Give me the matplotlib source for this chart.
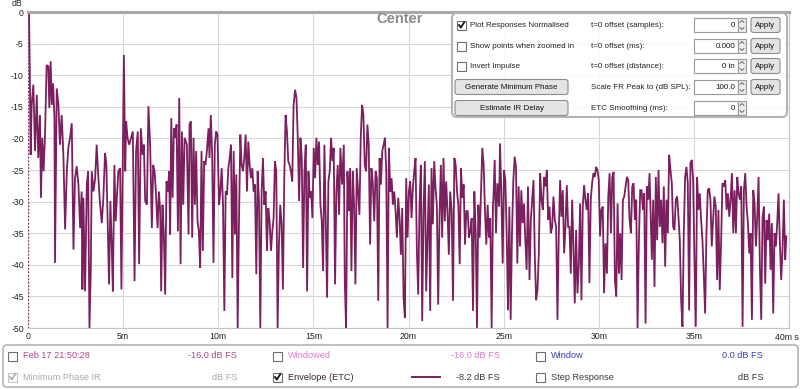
import matplotlib
matplotlib.use("Agg")
import matplotlib.pyplot as plt
from matplotlib.patches import Rectangle, FancyBboxPatch

plt.rcParams["font.family"] = ["Liberation Sans", "DejaVu Sans"]

# ETC trace: time in ms, level in dB FS
etc_time_ms = [
    0.05, 0.09, 0.14, 0.19, 0.28, 0.37, 0.46, 0.54, 0.63, 0.68,
    0.75, 0.82, 0.89, 0.98, 1.07, 1.12, 1.19, 1.25, 1.32, 1.39,
    1.42, 1.51, 1.60, 1.68, 1.77, 1.86, 1.95, 2.04, 2.12, 2.21,
    2.30, 2.39, 2.47, 2.56, 2.65, 2.74, 2.82, 2.86, 2.91, 3.00,
    3.09, 3.16, 3.23, 3.30, 3.35, 3.44, 3.53, 3.61, 3.70, 3.79,
    3.88, 3.96, 4.05, 4.12, 4.19, 4.26, 4.33, 4.40, 4.46, 4.54,
    4.61, 4.68, 4.75, 4.84, 4.91, 4.98, 5.04, 5.11, 5.16, 5.23,
    5.32, 5.42, 5.51, 5.60, 5.68, 5.77, 5.84, 5.93, 6.02, 6.09,
    6.16, 6.25, 6.33, 6.42, 6.51, 6.58, 6.65, 6.72, 6.81, 6.88,
    6.95, 7.00, 7.07, 7.14, 7.21, 7.28, 7.35, 7.42, 7.47, 7.53,
    7.60, 7.67, 7.74, 7.81, 7.88, 7.95, 8.02, 8.09, 8.16, 8.23,
    8.35, 8.44, 8.49, 8.56, 8.63, 8.70, 8.77, 8.84, 8.91, 8.98,
    9.05, 9.12, 9.19, 9.26, 9.33, 9.40, 9.49, 9.54, 9.61, 9.68,
    9.75, 9.82, 9.89, 9.96, 10.04, 10.11, 10.18, 10.25, 10.32, 10.39,
    10.46, 10.53, 10.60, 10.67, 10.74, 10.81, 10.88, 10.95, 11.02, 11.09,
    11.16, 11.23, 11.30, 11.37, 11.44, 11.51, 11.58, 11.65, 11.72, 11.79,
    11.86, 11.93, 12.00, 12.07, 12.14, 12.21, 12.28, 12.35, 12.42, 12.49,
    12.56, 12.63, 12.70, 12.77, 12.84, 12.91, 12.98, 13.05, 13.12, 13.19,
    13.26, 13.33, 13.40, 13.47, 13.54, 13.61, 13.68, 13.75, 13.82, 13.89,
    13.96, 14.04, 14.11, 14.18, 14.25, 14.32, 14.39, 14.46, 14.53, 14.60,
    14.67, 14.74, 14.81, 14.88, 14.95, 15.02, 15.09, 15.16, 15.23, 15.30,
    15.37, 15.44, 15.51, 15.58, 15.65, 15.72, 15.79, 15.86, 15.93, 16.00,
    16.07, 16.14, 16.21, 16.28, 16.35, 16.42, 16.51, 16.60, 16.65, 16.72,
    16.79, 16.86, 16.93, 17.00, 17.07, 17.14, 17.21, 17.28, 17.35, 17.42,
    17.49, 17.56, 17.63, 17.70, 17.77, 17.84, 17.91, 17.98, 18.05, 18.12,
    18.20, 18.27, 18.34, 18.41, 18.48, 18.55, 18.62, 18.69, 18.76, 18.83,
    18.90, 18.97, 19.04, 19.11, 19.18, 19.25, 19.32, 19.39, 19.46, 19.53,
    19.60, 19.67, 19.74, 19.81, 19.88, 19.95, 20.02, 20.09, 20.16, 20.23,
    20.30, 20.37, 20.44, 20.51, 20.58, 20.65, 20.72, 20.79, 20.86, 20.93,
    21.00, 21.07, 21.14, 21.21, 21.28, 21.35, 21.42, 21.49, 21.56, 21.63,
    21.70, 21.77, 21.84, 21.91, 21.98, 22.05, 22.12, 22.19, 22.27, 22.34,
    22.41, 22.48, 22.55, 22.62, 22.69, 22.76, 22.83, 22.90, 22.97, 23.04,
    23.11, 23.18, 23.25, 23.32, 23.39, 23.46, 23.53, 23.60, 23.67, 23.74,
    23.81, 23.88, 23.95, 24.02, 24.09, 24.16, 24.23, 24.30, 24.37, 24.44,
    24.46, 24.53, 24.60, 24.67, 24.76, 24.81, 24.88, 24.95, 25.02, 25.09,
    25.16, 25.23, 25.30, 25.37, 25.44, 25.51, 25.58, 25.65, 25.72, 25.79,
    25.86, 25.93, 26.00, 26.07, 26.14, 26.21, 26.28, 26.36, 26.43, 26.50,
    26.57, 26.64, 26.71, 26.78, 26.85, 26.92, 26.99, 27.06, 27.13, 27.20,
    27.27, 27.34, 27.41, 27.48, 27.55, 27.62, 27.69, 27.76, 27.83, 27.90,
    27.97, 28.04, 28.11, 28.18, 28.25, 28.32, 28.39, 28.46, 28.53, 28.60,
    28.67, 28.74, 28.81, 28.88, 28.95, 29.02, 29.09, 29.16, 29.23, 29.30,
    29.37, 29.44, 29.51, 29.58, 29.65, 29.72, 29.79, 29.86, 29.93, 30.00,
    30.07, 30.14, 30.21, 30.28, 30.35, 30.43, 30.50, 30.57, 30.64, 30.71,
    30.78, 30.85, 30.92, 30.99, 31.06, 31.13, 31.20, 31.27, 31.34, 31.41,
    31.48, 31.55, 31.62, 31.69, 31.76, 31.83, 31.90, 31.97, 32.04, 32.11,
    32.18, 32.25, 32.32, 32.39, 32.46, 32.53, 32.60, 32.67, 32.79, 32.86,
    32.93, 33.00, 33.07, 33.14, 33.21, 33.28, 33.35, 33.42, 33.49, 33.56,
    33.63, 33.70, 33.77, 33.84, 33.91, 33.98, 34.05, 34.12, 34.19, 34.26,
    34.33, 34.40, 34.47, 34.54, 34.61, 34.68, 34.75, 34.82, 34.89, 34.96,
    35.03, 35.10, 35.17, 35.24, 35.31, 35.38, 35.45, 35.52, 35.59, 35.66,
    35.73, 35.80, 35.87, 35.94, 36.01, 36.08, 36.15, 36.22, 36.29, 36.36,
    36.43, 36.50, 36.58, 36.65, 36.72, 36.79, 36.86, 36.93, 37.00, 37.07,
    37.14, 37.21, 37.28, 37.35, 37.42, 37.49, 37.56, 37.63, 37.70, 37.77,
    37.84, 37.91, 37.98, 38.05, 38.12, 38.19, 38.26, 38.33, 38.40, 38.47,
    38.54, 38.61, 38.68, 38.75, 38.82, 38.89, 38.96, 39.03, 39.10, 39.17,
    39.24, 39.31, 39.38, 39.45, 39.52, 39.59, 39.66, 39.73, 39.80, 39.86,
]

etc_level_db = [
    0.0, -8.4, -22.6, -14.7, -11.5, -22.0, -13.1, -23.1, -16.3, -29.4,
    -19.9, -25.2, -19.9, -8.4, -8.6, -15.2, -7.8, -14.7, -11.3, -16.8,
    -39.7, -12.1, -14.7, -21.0, -16.3, -22.6, -34.4, -25.2, -21.5, -19.9,
    -17.6, -37.6, -26.3, -24.4, -27.3, -34.2, -28.4, -43.9, -29.4, -44.2,
    -27.3, -25.2, -50.0, -41.0, -25.2, -28.4, -26.3, -21.0, -26.3, -30.5,
    -33.4, -29.4, -22.3, -24.2, -33.6, -43.1, -29.9, -36.8, -44.2, -24.2,
    -33.1, -28.9, -25.2, -24.7, -43.9, -24.7, -6.8, -25.2, -17.3, -19.9,
    -21.0, -19.9, -18.9, -42.6, -22.0, -18.9, -39.9, -18.4, -22.6, -21.0,
    -29.9, -30.5, -14.9, -21.0, -34.2, -24.2, -25.2, -28.4, -34.2, -28.4,
    -31.5, -44.2, -30.5, -35.2, -44.7, -26.8, -28.4, -25.2, -35.2, -16.8,
    -29.4, -18.4, -19.9, -17.8, -34.7, -13.6, -39.9, -18.9, -30.5, -19.9,
    -21.0, -35.2, -17.8, -17.3, -35.7, -19.9, -30.5, -22.0, -33.1, -34.7,
    -40.5, -22.0, -37.8, -23.6, -24.2, -22.0, -18.4, -23.1, -16.3, -22.6,
    -39.7, -21.0, -18.9, -19.4, -30.5, -28.4, -24.7, -30.5, -47.3, -28.4,
    -28.9, -24.7, -23.1, -21.0, -42.1, -22.0, -35.2, -25.7, -50.0, -33.1,
    -19.4, -24.2, -25.2, -23.1, -19.4, -28.4, -20.5, -24.2, -26.3, -24.7,
    -28.4, -27.3, -41.5, -25.2, -29.9, -50.0, -28.4, -23.1, -30.5, -28.4,
    -37.8, -31.0, -33.1, -37.8, -34.7, -32.6, -23.6, -25.2, -50.0, -36.8,
    -30.5, -33.6, -43.9, -26.3, -16.3, -18.9, -23.6, -24.2, -25.2, -26.8,
    -14.7, -12.3, -13.6, -19.9, -29.9, -19.9, -23.1, -40.5, -25.2, -21.0,
    -44.2, -25.2, -29.4, -28.4, -32.6, -21.5, -26.3, -19.9, -24.2, -20.5,
    -30.5, -33.1, -41.0, -21.0, -33.1, -45.2, -26.8, -25.2, -19.9, -23.6,
    -21.5, -43.1, -28.4, -24.2, -32.1, -21.5, -27.3, -21.0, -42.6, -50.0,
    -25.2, -31.5, -24.7, -41.0, -25.2, -30.5, -43.1, -24.7, -28.4, -32.1,
    -19.9, -14.7, -16.3, -24.2, -25.2, -17.8, -21.0, -36.8, -24.7, -26.8,
    -33.1, -25.2, -26.3, -45.7, -23.1, -27.3, -22.0, -21.0, -19.9, -25.2,
    -50.0, -21.5, -28.4, -26.3, -30.5, -28.4, -31.5, -35.7, -29.4, -32.6,
    -38.4, -31.0, -45.2, -48.4, -26.3, -35.7, -28.4, -26.8, -32.6, -27.8,
    -25.2, -23.1, -37.8, -44.7, -30.5, -24.2, -48.9, -31.5, -23.6, -44.2,
    -35.7, -27.3, -47.3, -24.7, -33.6, -23.6, -27.8, -30.5, -46.3, -32.6,
    -24.2, -35.7, -23.1, -33.1, -26.8, -31.5, -38.4, -28.4, -31.5, -45.7,
    -23.1, -24.2, -28.4, -30.5, -39.9, -24.7, -29.4, -27.3, -36.8, -31.5,
    -31.5, -35.7, -34.7, -32.6, -47.3, -28.4, -34.7, -50.0, -30.5, -35.7,
    -28.4, -21.5, -24.2, -31.5, -36.8, -30.5, -35.7, -32.6, -50.0, -30.5,
    -29.7, -23.4, -35.0, -27.1, -30.8, -20.8, -28.7, -39.8, -25.0, -26.6,
    -35.0, -47.2, -30.8, -48.7, -35.0, -26.6, -22.9, -24.5, -39.8, -27.6,
    -37.1, -28.2, -33.4, -30.3, -36.1, -40.8, -27.6, -42.4, -32.9, -29.7,
    -26.6, -38.7, -45.6, -44.0, -38.2, -25.5, -29.7, -31.3, -26.1, -27.6,
    -25.0, -32.9, -30.8, -35.0, -34.0, -29.2, -32.9, -34.0, -48.7, -35.0,
    -26.6, -32.4, -28.2, -38.2, -34.0, -27.4, -34.0, -34.0, -41.4, -29.7,
    -37.1, -46.1, -34.5, -44.5, -40.3, -30.3, -45.6, -30.8, -27.4, -29.7,
    -31.3, -28.7, -42.9, -29.7, -27.1, -25.5, -26.1, -24.5, -25.0, -26.6,
    -35.5, -31.3, -30.8, -44.5, -36.6, -41.4, -29.2, -25.5, -35.0, -26.1,
    -25.3, -42.4, -45.0, -30.3, -41.4, -35.0, -42.4, -29.7, -29.2, -27.6,
    -26.1, -26.6, -32.9, -35.0, -27.6, -27.1, -32.9, -29.7, -50.0, -36.1,
    -28.2, -28.2, -31.3, -28.7, -49.3, -27.6, -29.7, -25.5, -39.2, -29.7,
    -43.5, -26.1, -36.1, -25.0, -34.0, -29.7, -36.6, -27.6, -40.3, -29.7,
    -35.0, -22.6, -25.0, -27.1, -34.0, -34.5, -29.7, -29.2, -32.4, -36.1,
    -45.6, -49.8, -35.0, -26.1, -24.5, -27.1, -47.2, -23.9, -23.4, -26.6,
    -39.2, -49.8, -26.1, -31.3, -28.7, -32.9, -36.1, -41.4, -47.7, -35.0,
    -28.2, -27.9, -29.7, -37.1, -32.9, -29.2, -30.8, -42.4, -31.3, -44.0,
    -36.6, -27.1, -27.6, -26.6, -31.3, -28.7, -32.4, -29.7, -25.5, -35.0,
    -28.2, -35.0, -26.1, -28.7, -29.7, -27.6, -49.8, -28.2, -25.5, -30.8,
    -33.4, -38.2, -35.0, -48.7, -28.2, -30.3, -37.1, -32.4, -26.1, -40.3,
    -48.7, -32.4, -30.8, -43.0, -32.9, -36.1, -31.9, -40.8, -33.4, -47.7,
    -35.0, -37.1, -33.4, -28.7, -36.6, -42.4, -37.6, -29.7, -39.2, -35.5,
]

x_ticks = [0, 5, 10, 15, 20, 25, 30, 35, 40]
x_tick_labels = ["0", "5m", "10m", "15m", "20m", "25m", "30m", "35m", ""]
y_ticks = [0, -5, -10, -15, -20, -25, -30, -35, -40, -45, -50]

TRACE = "#7b1f5e"
W, H = 800, 389

fig = plt.figure(figsize=(W / 100, H / 100), dpi=100)
fig.patch.set_facecolor("white")

# main plot area, in pixels: x 28..789, y 12..328
left, right, top, bottom = 28, 789, 12, 328
ax = fig.add_axes([left / W, 1 - bottom / H, (right - left) / W, (bottom - top) / H])
ax.plot(etc_time_ms, etc_level_db, color=TRACE, lw=1.3, solid_joinstyle="miter")
ax.axvline(0, color=TRACE, lw=1.0, ls=(0, (1, 1.5)))
ax.set_xlim(0, 40)
ax.set_ylim(-50, 0)
ax.set_xticks(x_ticks)
ax.set_xticklabels(x_tick_labels)
ax.set_yticks(y_ticks)
ax.set_yticklabels([str(v) for v in y_ticks])
ax.grid(True, color="#d8d8d8", lw=0.8)
ax.set_axisbelow(True)
ax.tick_params(axis="both", length=0, labelsize=6.3, colors="#222222", pad=3)
for side in ["bottom", "right"]:
    ax.spines[side].set_color("#c4c4c4")
    ax.spines[side].set_linewidth(0.8)
ax.spines["left"].set_visible(False)
ax.spines["top"].set_color("#a8a8a8")
ax.spines["top"].set_linewidth(2.2)

# overlay in pixel coordinates for the REW widgets
ov = fig.add_axes([0, 0, 1, 1], zorder=5)
ov.set_xlim(0, W)
ov.set_ylim(H, 0)
ov.axis("off")
ov.patch.set_alpha(0)

ov.text(12, 3.5, "dB", fontsize=6.3, ha="left", va="center", color="#222222")
ov.text(799, 337.5, "40m s", fontsize=6.3, ha="right", va="center", color="#222222")
ov.text(400, 19, "Center", fontsize=10.5, fontweight="bold", color="#8c8c8c",
        ha="center", va="center")


def checkbox(x, y, checked=False, color="#6f6f6f", tick="#111111", size=9):
    ov.add_patch(Rectangle((x, y - size / 2), size, size, fc="white", ec=color, lw=0.8))
    if checked:
        ov.plot([x + 2, x + 3.8, x + 7.2], [y, y + 2.6, y - 2.8], color=tick, lw=1.3)


def button(x0, x1, y, label, h=15):
    ov.add_patch(FancyBboxPatch((x0, y - h / 2), x1 - x0, h,
                                boxstyle="round,pad=0,rounding_size=2.5",
                                fc="#e4e4e4", ec="#8c8c8c", lw=0.8))
    ov.text((x0 + x1) / 2, y + 0.5, label, fontsize=5.8, ha="center", va="center",
            color="#111111")


def spin_box(x0, x1, y, value, h=14):
    ov.add_patch(Rectangle((x0, y - h / 2), x1 - x0, h, fc="white", ec="#9a9a9a", lw=0.8))
    ov.text(x1 - 3, y + 0.5, value, fontsize=5.8, ha="right", va="center", color="#111111")
    ov.add_patch(Rectangle((x1, y - h / 2), 8, h, fc="#ececec", ec="#9a9a9a", lw=0.8))
    ov.plot([x1 + 2, x1 + 4, x1 + 6], [y - 2.5, y - 4.5, y - 2.5], color="#555555", lw=0.6)
    ov.plot([x1 + 2, x1 + 4, x1 + 6], [y + 2.5, y + 4.5, y + 2.5], color="#555555", lw=0.6)


# top right control panel
ov.add_patch(FancyBboxPatch((452, 13), 335, 104, boxstyle="round,pad=0,rounding_size=5",
                            fc=(1, 1, 1, 0.85), ec="#b4b4b4", lw=1.5))
rows = [25, 46, 66, 87, 108]
checkbox(457, rows[0], checked=True)
ov.text(470, rows[0], "Plot Responses Normalised", fontsize=5.8, va="center", color="#222222")
checkbox(457, rows[1])
ov.text(470, rows[1], "Show points when zoomed in", fontsize=5.8, va="center", color="#222222")
checkbox(457, rows[2])
ov.text(470, rows[2], "Invert Impulse", fontsize=5.8, va="center", color="#222222")
button(455, 568, rows[3], "Generate Minimum Phase")
button(455, 568, rows[4], "Estimate IR Delay")

mid_labels = ["t=0 offset (samples):", "t=0 offset (ms):", "t=0 offset (distance):",
              "Scale FR Peak to (dB SPL):", "ETC Smoothing (ms):"]
box_values = ["0", "0.000", "0 in", "100.0", "0"]
for i, y in enumerate(rows):
    ov.text(591, y, mid_labels[i], fontsize=5.8, va="center", color="#222222")
    spin_box(694, 738, y, box_values[i])
    if i < 4:
        button(751, 780, y, "Apply", h=15)

# bottom legend panel
ov.add_patch(FancyBboxPatch((3, 345), 795, 42, boxstyle="round,pad=0,rounding_size=4",
                            fc="white", ec="#a6a6a6", lw=1.0))
r1, r2 = 356, 377
PINK = "#b4468e"
LPINK = "#dc7ccb"
BLUE = "#3838c4"
GREY = "#a9a9a9"
DARK = "#3b3b3b"
fs = 6.6

checkbox(8, r1)
ov.text(23, r1, "Feb 17 21:50:28", fontsize=fs, va="center", color=PINK)
ov.text(237, r1, "-16.0 dB FS", fontsize=fs, va="center", ha="right", color=PINK)
checkbox(273, r1)
ov.text(288, r1, "Windowed", fontsize=fs, va="center", color=LPINK)
ov.text(500, r1, "-16.0 dB FS", fontsize=fs, va="center", ha="right", color=LPINK)
checkbox(536, r1)
ov.text(551, r1, "Window", fontsize=fs, va="center", color=BLUE)
ov.text(763, r1, "0.0 dB FS", fontsize=fs, va="center", ha="right", color=BLUE)

checkbox(8, r2, checked=True, color="#c4c4c4", tick="#b0b0b0")
ov.text(23, r2, "Minimum Phase IR", fontsize=fs, va="center", color=GREY)
ov.text(237, r2, "dB FS", fontsize=fs, va="center", ha="right", color=GREY)
checkbox(273, r2, checked=True)
ov.text(288, r2, "Envelope (ETC)", fontsize=fs, va="center", color="#3a2335")
ov.plot([412, 440], [r2, r2], color=TRACE, lw=1.4)
ov.text(500, r2, "-8.2 dB FS", fontsize=fs, va="center", ha="right", color=DARK)
checkbox(536, r2)
ov.text(551, r2, "Step Response", fontsize=fs, va="center", color=DARK)
ov.text(763, r2, "dB FS", fontsize=fs, va="center", ha="right", color=DARK)

fig.savefig("out.png", dpi=100)
